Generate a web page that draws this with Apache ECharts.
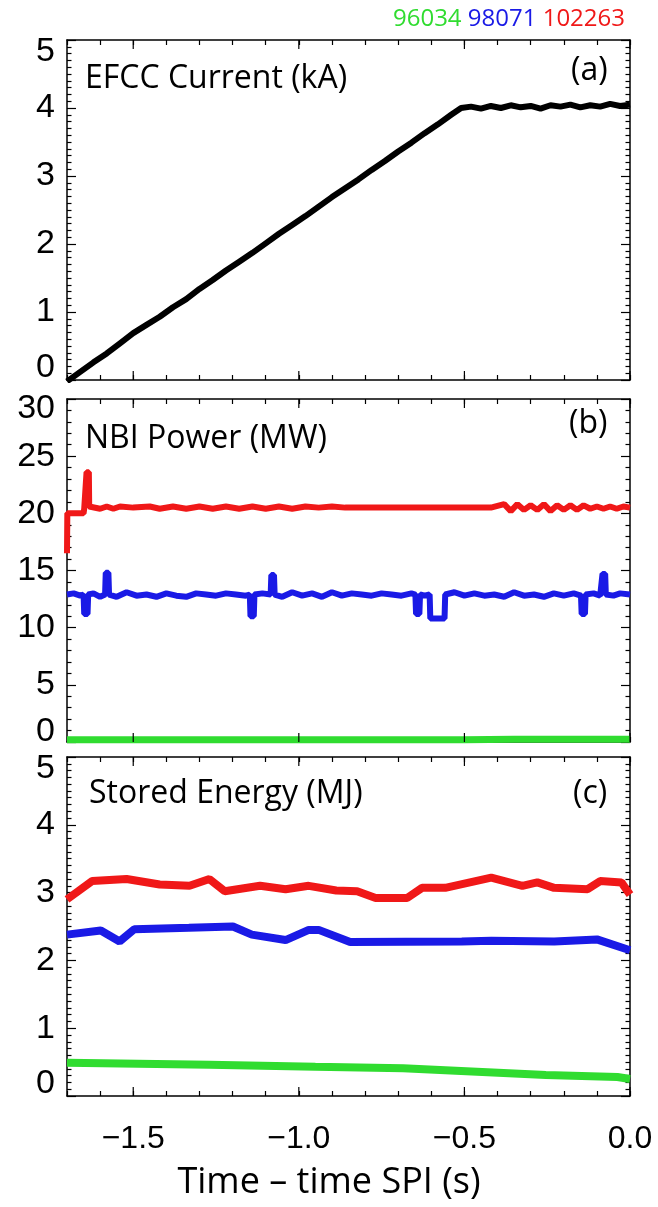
<!DOCTYPE html>
<html>
<head>
<meta charset="utf-8">
<script src="https://cdn.jsdelivr.net/npm/echarts@6/dist/echarts.min.js"></script>
<style>
  html, body { margin: 0; padding: 0; background: #fff; }
  #chart { width: 658px; height: 1207px; }
</style>
</head>
<body>
<div id="chart"></div>
<script>
// (a) EFCC current, kA
const tA = [-1.70, -1.66, -1.62, -1.58, -1.54, -1.50, -1.46, -1.42, -1.38, -1.34, -1.30, -1.26, -1.22, -1.18, -1.14, -1.10,
  -1.06, -1.02, -0.98, -0.94, -0.90, -0.86, -0.82, -0.78, -0.74, -0.70, -0.66, -0.62, -0.58, -0.54, -0.51,
  -0.48, -0.45, -0.42, -0.39, -0.36, -0.33, -0.30, -0.27, -0.24, -0.21, -0.18, -0.15, -0.12, -0.09, -0.06, -0.03, 0.00];
const efcc = [-0.02, 0.12, 0.26, 0.39, 0.54, 0.69, 0.81, 0.93, 1.07, 1.19, 1.34, 1.47, 1.61, 1.74, 1.87, 2.01,
  2.15, 2.28, 2.41, 2.55, 2.69, 2.82, 2.95, 3.09, 3.22, 3.36, 3.49, 3.63, 3.76, 3.90, 4.00,
  4.02, 3.99, 4.03, 4.00, 4.04, 4.01, 4.03, 3.99, 4.04, 4.02, 4.05, 4.01, 4.04, 4.02, 4.06, 4.03, 4.05];

// (b) NBI power, MW
const tNbiRed = [-1.700, -1.699, -1.650, -1.648, -1.642, -1.641, -1.634, -1.633, -1.60, -1.58, -1.56, -1.54, -1.50, -1.45,
  -1.42, -1.38, -1.34, -1.30, -1.26, -1.22, -1.18, -1.14, -1.10, -1.06, -1.02, -0.98, -0.94, -0.90, -0.86, -0.80,
  -0.70, -0.60, -0.50, -0.42, -0.38, -0.36, -0.34, -0.32, -0.30, -0.28, -0.26, -0.24, -0.22, -0.20, -0.18, -0.16,
  -0.14, -0.12, -0.10, -0.08, -0.06, -0.04, -0.02, 0.00];
const nbiRed = [16.5, 20.0, 20.0, 20.4, 20.4, 23.6, 23.6, 20.6, 20.4, 20.6, 20.4, 20.6, 20.5, 20.6,
  20.4, 20.6, 20.4, 20.6, 20.4, 20.6, 20.4, 20.6, 20.4, 20.6, 20.4, 20.6, 20.5, 20.6, 20.5, 20.5,
  20.5, 20.5, 20.5, 20.5, 20.8, 20.2, 20.8, 20.3, 20.7, 20.3, 20.8, 20.2, 20.7, 20.3, 20.7, 20.3,
  20.7, 20.4, 20.6, 20.4, 20.6, 20.4, 20.6, 20.5];
const tNbiBlue = [-1.700, -1.68, -1.66, -1.650, -1.648, -1.638, -1.636, -1.62, -1.60, -1.585, -1.583, -1.575, -1.573,
  -1.55, -1.52, -1.49, -1.46, -1.43, -1.40, -1.37, -1.34, -1.31, -1.28, -1.25, -1.22, -1.19, -1.16, -1.148, -1.146,
  -1.136, -1.134, -1.11, -1.085, -1.083, -1.075, -1.073, -1.05, -1.02, -0.99, -0.96, -0.93, -0.90, -0.87, -0.84,
  -0.81, -0.78, -0.75, -0.72, -0.69, -0.66, -0.648, -0.646, -0.636, -0.634, -0.62, -0.605, -0.603, -0.560, -0.558,
  -0.53, -0.50, -0.47, -0.44, -0.41, -0.38, -0.35, -0.32, -0.29, -0.26, -0.23, -0.20, -0.17, -0.148, -0.146, -0.136,
  -0.134, -0.11, -0.09, -0.085, -0.083, -0.075, -0.073, -0.05, -0.03, 0.00];
const nbiBlue = [12.9, 13.0, 12.8, 12.9, 11.2, 11.2, 12.9, 13.0, 12.7, 12.9, 14.8, 14.8, 12.9,
  12.7, 13.1, 12.8, 12.9, 12.7, 13.0, 12.8, 12.7, 13.0, 12.9, 12.8, 13.0, 12.9, 12.8, 12.9, 11.0,
  11.0, 12.9, 13.0, 12.9, 14.6, 14.6, 12.9, 12.7, 13.1, 12.8, 13.0, 12.7, 13.1, 12.8, 13.0,
  12.9, 12.8, 13.0, 12.9, 12.8, 13.0, 12.9, 11.2, 11.2, 12.9, 12.8, 12.9, 10.8, 10.8, 12.9,
  13.1, 12.8, 13.0, 12.8, 12.9, 12.7, 13.1, 12.8, 12.9, 12.7, 13.0, 12.8, 13.0, 12.8, 11.2, 11.2,
  12.9, 13.0, 12.8, 12.9, 14.7, 14.7, 12.9, 12.8, 13.0, 12.9];
const tNbiGreen = [-1.70, -0.50, -0.35, 0.00];
const nbiGreen = [0.2, 0.2, 0.25, 0.25];

// (c) stored energy, MJ
const tWRed = [-1.70, -1.624, -1.52, -1.42, -1.33, -1.27, -1.224, -1.117, -1.04, -0.97, -0.887, -0.824, -0.768,
  -0.673, -0.628, -0.558, -0.419, -0.325, -0.28, -0.229, -0.128, -0.09, -0.026, 0.00];
const wRed = [2.90, 3.17, 3.20, 3.12, 3.10, 3.20, 3.02, 3.10, 3.05, 3.10, 3.03, 3.02, 2.92,
  2.92, 3.07, 3.07, 3.22, 3.10, 3.15, 3.07, 3.05, 3.17, 3.15, 2.97];
const tWBlue = [-1.70, -1.598, -1.541, -1.497, -1.332, -1.199, -1.142, -1.04, -0.97, -0.94, -0.845, -0.508, -0.419,
  -0.229, -0.10, 0.00];
const wBlue = [2.38, 2.44, 2.28, 2.46, 2.48, 2.50, 2.38, 2.30, 2.45, 2.45, 2.27, 2.28, 2.29, 2.28, 2.31, 2.15];
const tWGreen = [-1.70, -1.27, -0.95, -0.685, -0.51, -0.254, -0.038, 0.00];
const wGreen = [0.49, 0.46, 0.43, 0.41, 0.37, 0.31, 0.28, 0.25];

// labelled x ticks
const xMajor = [-1.5, -1.0, -0.5, 0.0];

const RED = '#f01818';
const BLUE = '#1a1ae6';
const GREEN = '#30dc30';

const chart = echarts.init(document.getElementById('chart'));
const pairs = (t, v) => t.map((x, i) => [x, v[i]]);

const frame = { color: '#000', width: 1.5 };
const tickStyle = { color: '#000', width: 1.2 };
const numFont = { fontSize: 34, fontFamily: 'Liberation Sans', color: '#000' };

const isHalf = v => Math.abs(v * 2 - Math.round(v * 2)) < 1e-6;
// never return an empty string: non-major ticks get a blank
const fmtX = v => {
  if (!isHalf(v)) return ' ';
  return v < -1e-6 ? '\u2212' + Math.abs(v).toFixed(1) : '0.0';
};

function xAxes(i, labels) {
  const base = () => ({
    type: 'value', gridIndex: i, min: -1.7, max: 0, interval: 0.1,
    splitLine: { show: false },
    axisLine: { show: true, onZero: false, lineStyle: frame },
    axisTick: { show: true, inside: true, length: 5, lineStyle: tickStyle }
  });
  const bottom = Object.assign(base(), { position: 'bottom' });
  bottom.axisLabel = labels
    ? { show: true, formatter: fmtX, color: '#000', fontSize: 32, fontFamily: 'Liberation Sans', margin: 27 }
    : { show: false };
  const top = Object.assign(base(), { position: 'top', axisLabel: { show: false } });
  return [bottom, top];
}

function yAxes(i, max, interval, split, shift) {
  const base = () => ({
    type: 'value', gridIndex: i, min: 0, max: max, interval: interval,
    splitLine: { show: false },
    axisLine: { show: true, onZero: false, lineStyle: frame },
    axisTick: { show: true, inside: true, length: 9, lineStyle: tickStyle },
    minorTick: { show: true, splitNumber: split, length: 4.5, lineStyle: tickStyle }
  });
  // end labels are nudged inside the frame, as in the original
  const left = Object.assign(base(), { position: 'left' });
  left.axisLabel = Object.assign({}, numFont, {
    margin: 12,
    formatter: v => v === max ? '{t|' + v + '}' : v === 0 ? '{b|' + v + '}' : String(v),
    rich: {
      t: Object.assign({}, numFont, { padding: [shift, 0, 0, 0] }),
      b: Object.assign({}, numFont, { padding: [0, 0, shift, 0] })
    }
  });
  const right = Object.assign(base(), { position: 'right', axisLabel: { show: false } });
  return [left, right];
}

function line(grid, t, v, color, width) {
  return {
    type: 'line', xAxisIndex: grid * 2, yAxisIndex: grid * 2,
    data: pairs(t, v), showSymbol: false,
    lineStyle: { color: color, width: width }
  };
}

// longer marks at the labelled x ticks, top and bottom, placed through the axis scale
function majorX(grid) {
  return {
    type: 'custom', xAxisIndex: grid * 2, yAxisIndex: grid * 2, silent: true, z: 5,
    data: xMajor.map(v => [v, 1]),
    renderItem: (params, api) => {
      const cs = params.coordSys;
      const x = api.coord([api.value(0), 1])[0];
      const st = { stroke: '#000', lineWidth: 1.2 };
      return { type: 'group', children: [
        { type: 'line', shape: { x1: x, y1: cs.y + cs.height, x2: x, y2: cs.y + cs.height - 9 }, style: st },
        { type: 'line', shape: { x1: x, y1: cs.y, x2: x, y2: cs.y + 9 }, style: st }
      ] };
    }
  };
}

const panelFont = 'Open Sans';
const panelTitle = (text, left, top, size) => ({
  text: text, left: left, top: top,
  textStyle: { color: '#000', fontSize: size, fontWeight: 'normal', fontFamily: panelFont }
});

chart.setOption({
  backgroundColor: '#fff',
  animation: false,
  title: [
    panelTitle('EFCC Current (kA)', 80, 58, 32),
    panelTitle('(a)', 566, 50, 32),
    panelTitle('NBI Power (MW)', 80, 418, 32),
    panelTitle('(b)', 564, 403, 32),
    panelTitle('Stored Energy (MJ)', 84, 773, 32),
    panelTitle('(c)', 568, 773, 32),
    panelTitle('Time \u2013 time SPI (s)', 'center', 1160, 36),
    {
      text: '{g|96034} {b|98071} {r|102263}', right: 28, top: 2,
      textStyle: {
        fontSize: 24, fontWeight: 'normal', fontFamily: panelFont,
        rich: {
          g: { color: GREEN, fontSize: 24, fontFamily: panelFont },
          b: { color: BLUE, fontSize: 24, fontFamily: panelFont },
          r: { color: RED, fontSize: 24, fontFamily: panelFont }
        }
      }
    }
  ],
  grid: [
    { left: 67, right: 28, top: 40, height: 340 },
    { left: 67, right: 28, top: 399, height: 343 },
    { left: 67, right: 28, top: 757, height: 339 }
  ],
  xAxis: [].concat(xAxes(0, false), xAxes(1, false), xAxes(2, true)),
  yAxis: [].concat(yAxes(0, 5, 1, 10, 24), yAxes(1, 30, 5, 5, 20), yAxes(2, 5, 1, 10, 24)),
  series: [
    line(0, tA, efcc, '#000', 6),
    line(1, tNbiRed, nbiRed, RED, 6),
    line(1, tNbiBlue, nbiBlue, BLUE, 6),
    line(1, tNbiGreen, nbiGreen, GREEN, 7),
    line(2, tWRed, wRed, RED, 8),
    line(2, tWBlue, wBlue, BLUE, 8),
    line(2, tWGreen, wGreen, GREEN, 8),
    majorX(0), majorX(1), majorX(2)
  ]
});
</script>
</body>
</html>
